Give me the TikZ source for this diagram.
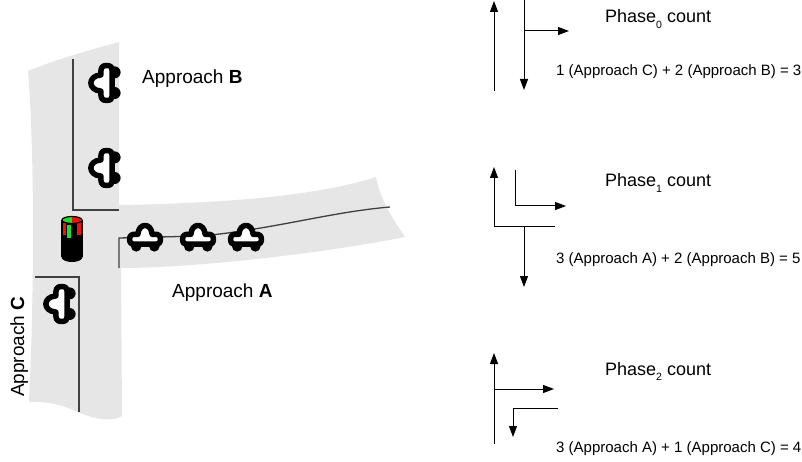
\documentclass[tikz,border=0pt]{standalone}
\usepackage{fontspec}
\setmainfont{Liberation Sans}
\usetikzlibrary{arrows.meta}
\definecolor{roadgray}{HTML}{E6E6E6}
\definecolor{laneline}{HTML}{404040}
\definecolor{lampgreen}{HTML}{22DD22}
\definecolor{lampred}{HTML}{EE1111}

\begin{document}
\begin{tikzpicture}[x=1pt,y=1pt,
  lane/.style={draw=laneline, line width=1.3pt},
  carbody/.style={draw=black, fill=white, line width=5.5pt, line join=round},
  move/.style={draw=black, line width=1pt, -{Triangle[length=11pt,width=8pt]}},
  lbl/.style={font=\fontsize{19}{22}\selectfont, anchor=base west, inner sep=0pt},
  phase/.style={font=\fontsize{18}{21}\selectfont, anchor=base west, inner sep=0pt},
  eqn/.style={font=\fontsize{15}{18}\selectfont, anchor=base west, inner sep=0pt},
  car/.pic={
    \fill[black] (-8,-8.5) circle (4.8) (8.5,-8.5) circle (4.8);
    \draw[carbody] (-14,-2) .. controls (-14,1.5) and (-12,2.5) .. (-9,2.5) -- (-6.5,2.5)
      .. controls (-6,8) and (-3,10.5) .. (0,10.5) .. controls (3,10.5) and (6,8) .. (6.5,2.5)
      -- (9,2.5) .. controls (12,2.5) and (14,1.5) .. (14,-2)
      .. controls (14,-5.5) and (12.5,-6.5) .. (10.5,-6.5)
      -- (-10.5,-6.5) .. controls (-12.5,-6.5) and (-14,-5.5) .. (-14,-2) -- cycle;
  }
]
\useasboundingbox (0,-462) rectangle (802,0);

% ---- road surface ----
\fill[roadgray] (28,-71) .. controls (60,-58) and (90,-50) .. (119,-42) -- (119,-205)
  .. controls (250,-203) and (330,-192) .. (376,-177)
  .. controls (380,-200) and (395,-222) .. (405,-237)
  .. controls (330,-252) and (200,-268) .. (121,-268) -- (122,-416)
  .. controls (112,-422) and (98,-420) .. (80,-413)
  .. controls (65,-406) and (50,-401) .. (29,-402)
  .. controls (34,-300) and (35,-160) .. (28,-71) -- cycle;

% ---- lane markings ----
\coordinate (laneB1) at (73,-59);
\coordinate (laneB2) at (73,-210);
\coordinate (laneB3) at (119,-210);
\draw[lane] (laneB1) -- (laneB2) -- (laneB3);
\coordinate (laneA1) at (119,-268);
\coordinate (laneA2) at (119,-238);
\coordinate (laneA3) at (200,-236);
\coordinate (laneA4) at (390,-207);
\draw[lane] (laneA1) -- (laneA2) -- (laneA3) .. controls (270,-230) and (330,-212) .. (laneA4);
\coordinate (laneC1) at (35,-277);
\coordinate (laneC2) at (79,-277);
\coordinate (laneC3) at (79,-412);
\draw[lane] (laneC1) -- (laneC2) -- (laneC3);

% ---- traffic light ----
\filldraw[black, line width=1pt] (62,-221) -- (62,-257) arc[start angle=180, end angle=360, x radius=10, y radius=4.5] -- (82,-221) -- cycle;
\fill[lampred] (62,-223) rectangle (66,-235);
\fill[lampgreen] (66.5,-225) rectangle (71,-238);
\fill[lampred] (76.5,-222) rectangle (81,-235);
\fill[lampgreen] (62,-220) arc[start angle=180, end angle=90, x radius=10, y radius=3.5] -- (72,-220) -- cycle;
\fill[lampgreen] (62,-220) arc[start angle=180, end angle=270, x radius=10, y radius=3.5] -- (72,-220) -- cycle;
\fill[lampred] (72,-216.5) arc[start angle=90, end angle=0, x radius=10, y radius=3.5] -- (72,-220) -- cycle;
\fill[lampred] (82,-220) arc[start angle=0, end angle=-90, x radius=10, y radius=3.5] -- (72,-220) -- cycle;
\draw[black, line width=1.2pt] (72,-220) ellipse [x radius=10, y radius=3.5];
\draw[black, line width=1.4pt] (62,-220) -- (62,-257) (82,-220) -- (82,-257);

% ---- queued vehicles ----
\pic[scale=1.1] (carA1) at (145,-237) {car};
\pic[scale=1.1] (carA2) at (198,-237) {car};
\pic[scale=1.1] (carA3) at (246,-237) {car};
\pic[rotate=90, scale=1.25] (carB1) at (104,-83) {car};
\pic[rotate=90, scale=1.25] (carB2) at (104,-168) {car};
\pic[rotate=90, scale=1.25] (carC1) at (59,-304) {car};

% ---- approach labels ----
\node[lbl] (apB) at (142,-84) {Approach \textbf{B}};
\node[lbl] (apA) at (172,-297) {Approach \textbf{A}};
\node[lbl, rotate=90] (apC) at (24,-397) {Approach \textbf{C}};

% ---- phase 0 movements ----
\coordinate (p0upS) at (494,-91);
\coordinate (p0upE) at (494,-1);
\coordinate (p0dnS) at (524,0);
\coordinate (p0dnE) at (524,-90);
\coordinate (p0rtS) at (524,-31);
\coordinate (p0rtE) at (569,-31);
\draw[move] (p0upS) -- (p0upE);
\draw[move] (p0dnS) -- (p0dnE);
\draw[move] (p0rtS) -- (p0rtE);
\node[phase] (ph0) at (605,-23) {Phase\raisebox{-0.33em}{\fontsize{10.5}{10.5}\selectfont 0} count};
\node[eqn] (eq0) at (556,-76) {1 (Approach C) + 2 (Approach B) = 3};

% ---- phase 1 movements ----
\coordinate (p1bar) at (555,-227);
\coordinate (p1upS) at (494,-227);
\coordinate (p1upE) at (494,-167);
\coordinate (p1dnS) at (524,-227);
\coordinate (p1dnE) at (524,-287);
\coordinate (p1rtS) at (515,-170);
\coordinate (p1rtM) at (515,-206);
\coordinate (p1rtE) at (566,-206);
\draw[move] (p1bar) -- (p1upS) -- (p1upE);
\draw[move] (p1dnS) -- (p1dnE);
\draw[move] (p1rtS) -- (p1rtM) -- (p1rtE);
\node[phase] (ph1) at (605,-187) {Phase\raisebox{-0.33em}{\fontsize{10.5}{10.5}\selectfont 1} count};
\node[eqn] (eq1) at (556,-263) {3 (Approach A) + 2 (Approach B) = 5};

% ---- phase 2 movements ----
\coordinate (p2upS) at (494,-444);
\coordinate (p2upE) at (494,-353);
\coordinate (p2rtS) at (494,-389);
\coordinate (p2rtE) at (554,-389);
\coordinate (p2ltS) at (558,-408);
\coordinate (p2ltM) at (513,-408);
\coordinate (p2ltE) at (513,-437);
\draw[move] (p2upS) -- (p2upE);
\draw[move] (p2rtS) -- (p2rtE);
\draw[move] (p2ltS) -- (p2ltM) -- (p2ltE);
\node[phase] (ph2) at (605,-375) {Phase\raisebox{-0.33em}{\fontsize{10.5}{10.5}\selectfont 2} count};
\node[eqn] (eq2) at (556,-452) {3 (Approach A) + 1 (Approach C) = 4};
\end{tikzpicture}
\end{document}
